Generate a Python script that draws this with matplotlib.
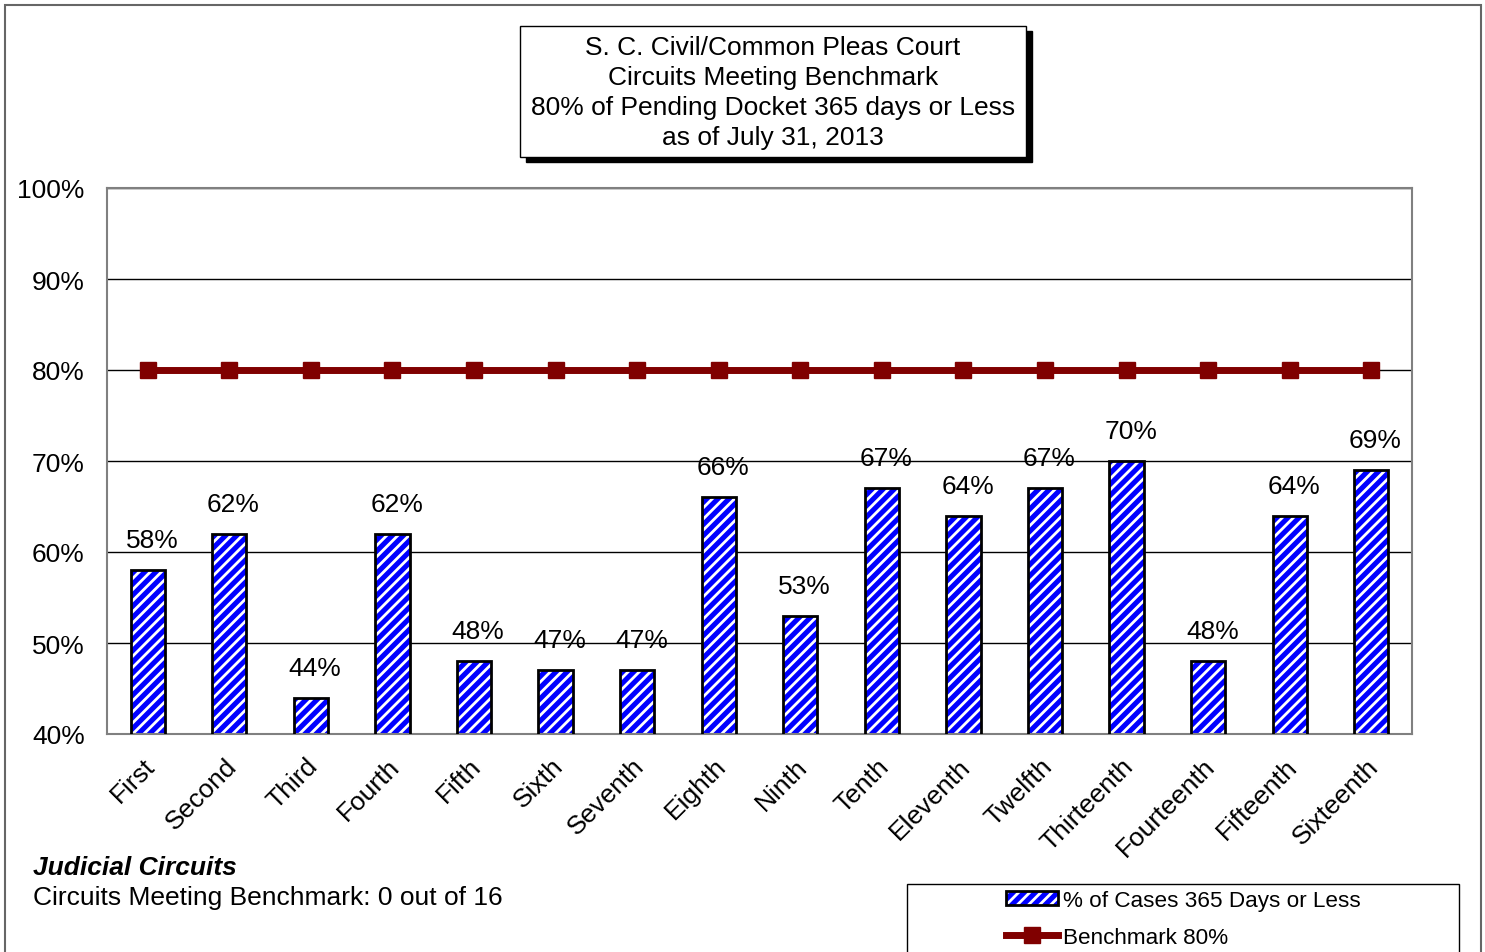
import matplotlib.pyplot as plt
import matplotlib.transforms as mtransforms
from matplotlib.patches import Rectangle, Patch
from matplotlib.lines import Line2D
from matplotlib.legend_handler import HandlerTuple

plt.rcParams['font.family'] = ['Liberation Sans', 'DejaVu Sans']
plt.rcParams['hatch.linewidth'] = 2.0

circuits = ['First', 'Second', 'Third', 'Fourth', 'Fifth', 'Sixth', 'Seventh', 'Eighth',
            'Ninth', 'Tenth', 'Eleventh', 'Twelfth', 'Thirteenth', 'Fourteenth',
            'Fifteenth', 'Sixteenth']
pct_365 = [58, 62, 44, 62, 48, 47, 47, 66, 53, 67, 64, 67, 70, 48, 64, 69]
benchmark = [80] * 16
yticks = [40, 50, 60, 70, 80, 90, 100]

W, H = 1485, 953
FS = 19
fig = plt.figure(figsize=(W / 100, H / 100), dpi=100)
ax = fig.add_axes([107 / W, 1 - 735 / H, (1412 - 107) / W, (735 - 189) / H])

x = list(range(len(circuits)))
# hatched fill, then black outline on top
ax.bar(x, pct_365, width=0.42, color='#0000ff', hatch='///',
       edgecolor='white', linewidth=0, zorder=2)
ax.bar(x, pct_365, width=0.42, color='none', edgecolor='black', linewidth=2, zorder=3)
ax.plot(x, benchmark, color='#800000', lw=5, marker='s', ms=11, zorder=4)

for xi, v in zip(x, pct_365):
    ax.annotate(f'{v}%', (xi, v), xytext=(3, 13), textcoords='offset points',
                ha='center', va='bottom', fontsize=FS)

ax.set_xlim(-0.5, len(circuits) - 0.5)
ax.set_ylim(40, 100)
ax.set_yticks(yticks)
ax.set_yticklabels([f'{t}%' for t in yticks], fontsize=FS)
ax.set_xticks(x)
ax.set_xticklabels(circuits, rotation=45, ha='right', rotation_mode='anchor', fontsize=FS)
ax.tick_params(axis='y', length=0, pad=16)
ax.tick_params(axis='x', length=0, pad=14)
shift = mtransforms.ScaledTranslation(-5 / 100, 0, fig.dpi_scale_trans)
for t in ax.get_xticklabels():
    t.set_transform(t.get_transform() + shift)
ax.grid(axis='y', color='black', lw=1, zorder=1)
for s in ax.spines.values():
    s.set_color('#808080')
    s.set_linewidth(1.5)

# outer frame
fig.patches.append(Rectangle((5 / W, -0.1), 1476 / W, 1.1 - 6 / H, transform=fig.transFigure,
                             fill=False, edgecolor='#666666', lw=1.5))

# title box with shadow
fig.patches.append(Rectangle((526 / W, 1 - 163 / H), 506 / W, 131 / H, transform=fig.transFigure,
                             facecolor='black', edgecolor='black'))
fig.patches.append(Rectangle((520 / W, 1 - 158 / H), 506 / W, 131 / H, transform=fig.transFigure,
                             facecolor='white', edgecolor='black', lw=1))
fig.text(773 / W, 1 - 93 / H,
         'S. C. Civil/Common Pleas Court\nCircuits Meeting Benchmark\n'
         '80% of Pending Docket 365 days or Less\nas of July 31, 2013',
         ha='center', va='center', fontsize=FS, linespacing=1.32)

fig.text(33 / W, 1 - 868 / H, 'Judicial Circuits', fontsize=FS, fontweight='bold',
         fontstyle='italic', va='center')
fig.text(33 / W, 1 - 898 / H, 'Circuits Meeting Benchmark: 0 out of 16', fontsize=FS, va='center')

# legend box
fig.patches.append(Rectangle((907 / W, -0.1), 552 / W, 0.1 + (953 - 885) / H,
                             transform=fig.transFigure, fill=False, edgecolor='black', lw=1))
h_fill = Patch(facecolor='#0000ff', hatch='///', edgecolor='white', lw=0)
h_edge = Patch(facecolor='none', edgecolor='black', lw=2)
h_line = Line2D([], [], color='#800000', lw=5, marker='s', ms=11)
fig.legend([(h_fill, h_edge), h_line], ['% of Cases 365 Days or Less', 'Benchmark 80%'],
           handler_map={tuple: HandlerTuple(ndivide=1, pad=0)},
           loc='upper left', bbox_to_anchor=(1006 / W, 1 - 891 / H), frameon=False,
           fontsize=16.2, handlelength=2.3, handleheight=0.55, handletextpad=0.25,
           labelspacing=0.7, borderaxespad=0, borderpad=0)

fig.savefig('out.png', dpi=100)
